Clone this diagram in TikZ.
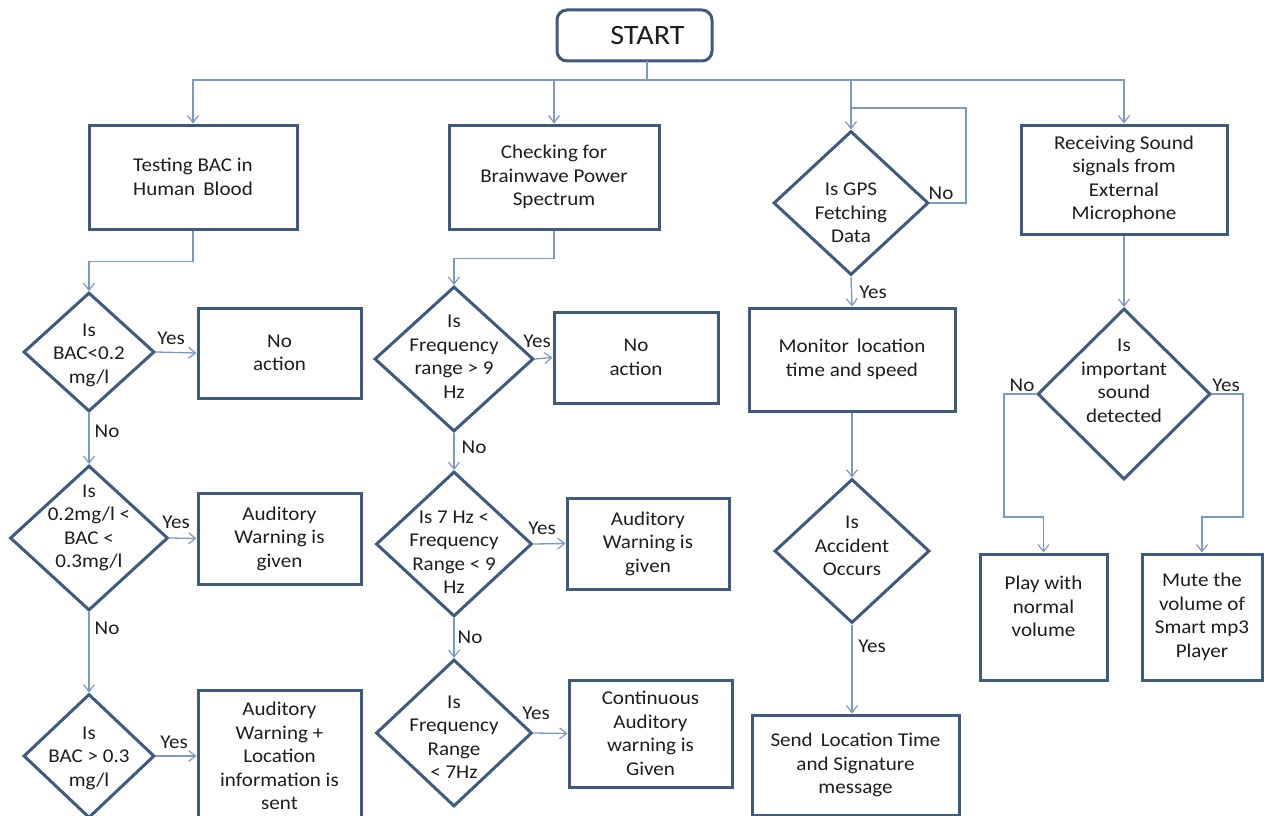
\documentclass[tikz,border=0pt]{standalone}
\usepackage{fontspec}
\setmainfont{Carlito}[FakeStretch=1.08]
\usetikzlibrary{arrows.meta,shapes.geometric}
\definecolor{boxc}{HTML}{3E5A7E}
\definecolor{linec}{HTML}{7B99C2}
\definecolor{txtc}{HTML}{1E1E1E}
\begin{document}
\begin{tikzpicture}[x=1pt,y=-1pt,
  font=\fontsize{19.5}{23.5}\selectfont, text=txtc,
  box/.style={draw=boxc, line width=3pt, fill=white, align=center, inner sep=0pt},
  dia/.style={diamond, draw=boxc, line width=3pt, fill=white, inner sep=0pt},
  dtext/.style={align=center, inner sep=0pt},
  arr/.style={draw=linec, line width=1.3pt, -{Straight Barb[length=7pt,width=11pt,line width=1.2pt]}},
  ln/.style={draw=linec, line width=1.3pt},
  lbl/.style={inner sep=0pt}]
\useasboundingbox (0,0) rectangle (1264,816);
\begin{scope}
\clip (0,0) rectangle (1264,816);
% START
\node[box, rounded corners=10pt, minimum width=155, minimum height=51,
      font=\fontsize{28}{30}\selectfont] (start) at (634.5,35.5) {\hspace{26pt}START};
\coordinate (bus) at (647,80);
\coordinate (stem) at (647,61);

% top row
\node[box, minimum width=208, minimum height=104] (test) at (193,177) {Testing BAC in\\Human\, Blood};
\node[box, minimum width=210, minimum height=104] (check) at (554,177) {Checking for\\Brainwave Power\\Spectrum};
\node[dia, minimum width=155, minimum height=144] (gps) at (851,203) {};
\node[dtext] (gpst) at (851,213) {Is GPS\\Fetching\\Data};
\node[box, minimum width=206, minimum height=109] (recv) at (1124,179.5) {Receiving Sound\\signals from\\External\\Microphone};

% BAC column
\node[dia, minimum width=131, minimum height=119] (d1) at (89,352) {};
\node[dtext] (d1t) at (89,355) {Is\\BAC<0.2\\mg/l};
\node[box, minimum width=163, minimum height=90] (na1) at (279.5,353) {No\\action};
\node[dia, minimum width=158, minimum height=145] (d2) at (89,538) {};
\node[dtext] (d2t) at (89,528) {Is\\0.2mg/l <\\BAC <\\0.3mg/l};
\node[box, minimum width=163, minimum height=91] (aw1) at (279.5,538.5) {Auditory\\Warning is\\given};
\node[dia, minimum width=131, minimum height=124] (d3) at (89,756) {};
\node[dtext] (d3t) at (89,758) {Is\\BAC > 0.3\\mg/l};
\node[box, minimum width=163, minimum height=132] (awl) at (279.5,756) {Auditory\\Warning +\\Location\\information is\\sent};

% frequency column
\node[dia, minimum width=159, minimum height=145] (f1) at (454,359) {};
\node[dtext] (f1t) at (454,356.5) {Is\\Frequency\\range > 9\\Hz};
\node[box, minimum width=164, minimum height=91] (na2) at (636,357.5) {No\\action};
\node[dia, minimum width=156, minimum height=145] (f2) at (454,544) {};
\node[dtext] (f2t) at (454,552) {Is 7 Hz <\\Frequency\\Range < 9\\Hz};
\node[box, minimum width=162, minimum height=91] (aw2) at (648,543.5) {Auditory\\Warning is\\given};
\node[dia, minimum width=156, minimum height=147] (f3) at (454,733) {};
\node[dtext] (f3t) at (454,737) {Is\\Frequency\\Range\\< 7Hz};
\node[box, minimum width=163, minimum height=107] (cont) at (650.5,733.5) {Continuous\\Auditory\\warning is\\Given};

% GPS column
\node[box, minimum width=206, minimum height=103] (mon) at (852,359.5) {Monitor\, location\\time and speed};
\node[dia, minimum width=155, minimum height=144] (acc) at (852,551) {};
\node[dtext] (acct) at (852,546) {Is\\Accident\\Occurs};
\node[box, minimum width=207, minimum height=100] (send) at (855.5,765) {Send\, Location Time\\and Signature\\message};

% sound column
\node[dia, minimum width=173, minimum height=171] (snd) at (1124,394) {};
\node[dtext] (sndt) at (1124,381) {Is\\important\\sound\\detected};
\node[box, minimum width=127, minimum height=126] (play) at (1043.5,617) {Play with\\normal\\volume\\[-2pt]\mbox{}};
\node[box, minimum width=120, minimum height=126] (mute) at (1202,617) {Mute the\\volume of\\Smart mp3\\Player};

% connectors from START
\draw[ln] (stem) -- (bus);
\draw[arr] (bus) -| (test.north);
\draw[arr] (bus) -| (check.north);
\draw[arr] (bus) -| (gps.north);
\draw[arr] (bus) -| (recv.north);

% BAC
\draw[arr] (test.south) -- ++(0,31) -| (d1.north);
\draw[arr] (d1.east) -- (na1.west);
\draw[arr] (d1.south) -- (d2.north);
\draw[arr] (d2.east) -- (aw1.west);
\draw[arr] (d2.south) -- (d3.north);
\draw[arr] (d3.east) -- (awl.west);

% frequency
\draw[arr] (check.south) -- ++(0,28) -| (f1.north);
\draw[arr] (f1.east) -- (na2.west);
\draw[arr] (f1.south) -- (f2.north);
\draw[arr] (f2.east) -- (aw2.west);
\draw[arr] (f2.south) -- (f3.north);
\draw[arr] (f3.east) -- (cont.west);

% GPS
\coordinate (loop) at (851,108);
\draw[ln] (gps.east) -- ++(36,0) |- (loop);
\draw[arr] (gps.south) -- (mon.north);
\draw[arr] (mon.south) -- (acc.north);
\draw[arr] (acc.south) -- (acc.south |- send.north);

% sound
\draw[arr] (recv.south) -- (snd.north);
\draw[arr] (snd.west) -- ++(-32,0) -- ++(0,123) -| (play.north);
\draw[arr] (snd.east) -- ++(31,0) -- ++(0,123) -| (mute.north);

% labels
\node[lbl] (y1) at (171,338) {Yes};
\node[lbl] (n1) at (107,431) {No};
\node[lbl] (y2) at (176,522) {Yes};
\node[lbl] (n2) at (107,628) {No};
\node[lbl] (y3) at (174,742) {Yes};
\node[lbl] (y4) at (537,341) {Yes};
\node[lbl] (n4) at (474,447) {No};
\node[lbl] (y5) at (542,528) {Yes};
\node[lbl] (n5) at (470,637) {No};
\node[lbl] (y6) at (536,713) {Yes};
\node[lbl] (n7) at (941,193) {No};
\node[lbl] (y7) at (873,292) {Yes};
\node[lbl] (y8) at (872,646) {Yes};
\node[lbl] (n9) at (1022,385) {No};
\node[lbl] (y9) at (1226,385) {Yes};
\end{scope}
\end{tikzpicture}
\end{document}
